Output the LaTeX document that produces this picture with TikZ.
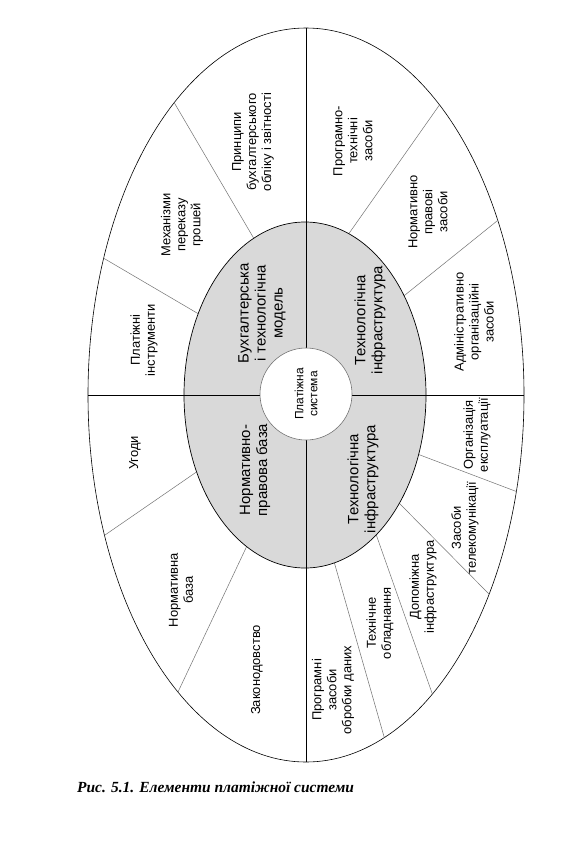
\documentclass[tikz,border=0pt]{standalone}
\usepackage{fontspec}
\setmainfont{Liberation Sans}
\newfontfamily\capfont{Liberation Serif}
\begin{document}
\begin{tikzpicture}[x=1bp,y=-1bp,
  ring/.style={draw=black!55,line width=0.5pt},
  lbl/.style={rotate=90,align=center,inner sep=0pt,font=\fontsize{13}{15}\selectfont},
  bigl/.style={rotate=90,align=center,inner sep=0pt,font=\fontsize{15}{17}\selectfont},
  axis/.style={draw=black,line width=0.7pt}]
  \useasboundingbox (0,0) rectangle (575,842);
  % outer ring
  \draw[line width=0.6pt,fill=white] (306,395) ellipse [x radius=218bp,y radius=367bp];
  \begin{scope}
    \clip (306,395) ellipse [x radius=218bp,y radius=367bp];
    \foreach \xa/\ya/\xb/\yb in {253/237/175/104,197/313/105/259,350/232/438/107,
        405/295/497/221,195/473/105/535,245/550/178/692,335/565/383/733,
        377/537/432/693,401/505/487/592,420/455/515/491}
      \draw[ring,shorten <=-15pt,shorten >=-15pt] (\xa,\ya) -- (\xb,\yb);
  \end{scope}
  % grey ellipse
  \draw[line width=0.7pt,fill=black!15] (305,395) ellipse [x radius=121bp,y radius=173bp];
  \draw[axis] (88,395) -- (524,395);
  \draw[axis] (306,28) -- (306,762);
  \node[circle,draw=black!55,line width=0.6pt,fill=white,minimum size=92bp,inner sep=0pt]
    (core) at (306,394) {};
  \node[lbl,font=\fontsize{12}{14}\selectfont] (sys) at (core) {Платіжна\\система};
  % inner sectors
  \node[bigl] (model) at (262,313) {Бухгалтерська\\і технологічна\\модель};
  \node[bigl] (infraA) at (370,320) {Технологічна\\інфраструктура};
  \node[bigl] (legal) at (255,470) {Нормативно-\\правова база};
  \node[bigl] (infraB) at (363,479) {Технологічна\\інфраструктура};
  % outer sectors
  \node[lbl] (princ) at (253,142) {Принципи\\бухгалтерського\\обліку і звітності};
  \node[lbl] (mech) at (182,225) {Механізми\\переказу\\грошей};
  \node[lbl] (instr) at (144,340) {Платіжні\\інструменти};
  \node[lbl] (agree) at (135,453) {Угоди};
  \node[lbl] (normb) at (181,590) {Нормативна\\база};
  \node[lbl] (law) at (257,670) {Законодовство};
  \node[lbl] (soft) at (333,690) {Програмні\\засоби\\обробки даних};
  \node[lbl] (hard) at (380,623) {Технічне\\обладнання};
  \node[lbl] (aux) at (423,587) {Допоміжна\\інфраструктура};
  \node[lbl] (tele) at (465,528) {Засоби\\телекомунікації};
  \node[lbl] (oper) at (477,435) {Організація\\експлуатації};
  \node[lbl] (admin) at (474,322) {Адміністративно\\організаційні\\засоби};
  \node[lbl] (normp) at (428,212) {Нормативно\\правові\\засоби};
  \node[lbl] (progt) at (353,141) {Програмно-\\технічні\\засоби};
  % caption
  \node[anchor=base west,inner sep=0pt,font=\capfont\bfseries\itshape\fontsize{15.5}{18}\selectfont]
    (cap) at (77,792) {Рис. 5.1. Елементи платіжної системи};
\end{tikzpicture}
\end{document}
